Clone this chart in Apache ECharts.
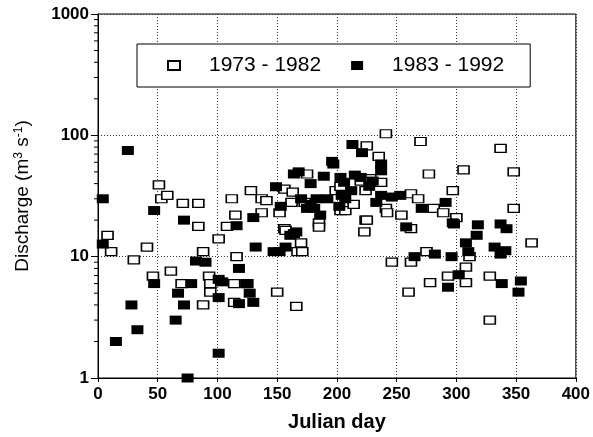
<!DOCTYPE html>
<html>
<head>
<meta charset="utf-8">
<script src="https://cdn.jsdelivr.net/npm/echarts@6/dist/echarts.min.js"></script>
<style>
  html, body { margin: 0; padding: 0; background: #fff; }
  #chart { width: 593px; height: 437px; }
</style>
</head>
<body>
<div id="chart"></div>
<script>
// 1973 - 1982 (open squares)
var day73 = [8, 11, 30, 41, 46, 51, 53, 58, 61, 70, 71, 84, 84, 88, 88, 93, 94, 94, 101, 108,
  112, 115, 116, 114, 114, 125, 128, 137, 141, 137, 150, 152, 156, 156, 157, 162, 163, 166, 167, 173,
  175, 185, 185, 170, 171, 199, 203, 203, 207, 214, 220, 224, 223, 225, 225, 228, 235, 237, 241, 241,
  242, 224, 246, 254, 260, 262, 262, 262, 268, 270, 275, 277, 278, 281, 289, 293, 297, 300, 306, 308,
  308, 311, 328, 328, 337, 348, 348, 363];
var q73 = [15, 11, 9.4, 12, 6.9, 39, 30, 32, 7.6, 6.0, 27.5, 27.5, 17.8, 11, 4.0, 6.9, 6.0, 5.1, 14, 17.8,
  30, 22, 10, 6, 4.2, 6, 35, 30, 29, 23, 5.1, 23, 36, 17, 16.5, 28, 34, 3.9, 11, 28,
  48, 19, 17.5, 13, 11, 35, 38, 24, 24, 27, 42, 20, 16, 20, 82, 44, 67, 41, 103, 25,
  23, 35, 9.0, 22, 5.1, 33, 9.0, 17, 30, 89, 11, 48, 6.1, 25, 23, 6.9, 35, 21, 52, 8.2,
  6.1, 10, 6.9, 3.0, 78, 50, 25, 13];

// 1983 - 1992 (filled squares)
var day83 = [4, 4, 15, 25, 28, 33, 47, 47, 65, 67, 72, 72, 75, 78, 82, 90, 101, 104, 101, 101,
  116, 118, 118, 124, 127, 130, 130, 132, 147, 152, 157, 149, 153, 161, 164, 164, 168, 178, 189, 196,
  178, 181, 192, 202, 213, 221, 237, 237, 203, 206, 197, 237, 233, 246, 253, 204, 207, 271, 291, 297,
  258, 265, 282, 296, 298, 302, 293, 308, 310, 318, 317, 337, 342, 332, 337, 341, 338, 354, 352, 170,
  175, 183, 186, 212, 215, 220, 227, 230, 166];
var q83 = [30, 12.7, 2.0, 75, 4.0, 2.5, 24, 6.0, 3.0, 5.0, 20, 4.0, 1.0, 6.0, 9.2, 9.0, 6.5, 6.2, 4.6, 1.6,
  18, 8.0, 4.1, 6.0, 5.0, 4.2, 21, 12, 11, 11, 12, 37.7, 26, 15, 15.5, 48, 50, 40, 46, 61,
  27, 25, 30, 26, 84, 72, 58, 51, 45, 41, 58, 32, 28, 31, 32, 32, 30, 25, 28, 19,
  17.6, 10, 10.5, 10, 18.6, 7.1, 5.6, 13, 11, 18.3, 15, 18.6, 17, 12, 10.5, 11.2, 6, 6.3, 5.1, 30,
  25, 30, 22, 35, 47, 45, 38, 42, 16];

// minor ticks of the log axis
var minorTicks = [2, 3, 4, 5, 6, 7, 8, 9, 20, 30, 40, 50, 60, 70, 80, 90, 200, 300, 400, 500, 600, 700, 800, 900];

var font = 'Liberation Sans, Arial, Helvetica, sans-serif';

function pairs(xs, ys) {
  return xs.map(function (x, i) { return [x, ys[i]]; });
}

var chart = echarts.init(document.getElementById('chart'));
chart.setOption({
  animation: false,
  backgroundColor: '#fff',
  textStyle: { fontFamily: font },
  grid: {
    left: 98, right: 15, top: 14, bottom: 58,
    show: true, borderColor: '#000', borderWidth: 1
  },
  legend: {
    data: ['1973 - 1982', '1983 - 1992'],
    left: 137, top: 44,
    orient: 'horizontal',
    backgroundColor: '#fff',
    borderColor: '#000', borderWidth: 1,
    padding: [11, 26, 11, 30],
    itemWidth: 12, itemHeight: 9,
    itemGap: 30,
    textStyle: { fontSize: 21, color: '#000', fontFamily: font, padding: [0, 0, 0, 24] }
  },
  xAxis: {
    type: 'value',
    min: 0, max: 400, interval: 50,
    name: 'Julian day',
    nameLocation: 'middle',
    nameGap: 34,
    nameTextStyle: { fontSize: 20, fontWeight: 'bold', color: '#000' },
    axisLine: { lineStyle: { color: '#000', width: 1 } },
    axisTick: { inside: false, length: 4, lineStyle: { color: '#000' } },
    axisLabel: { fontSize: 17, fontWeight: 'bold', color: '#000', margin: 8 },
    splitLine: { show: true, lineStyle: { color: '#333', type: [1, 2], width: 1 } }
  },
  yAxis: {
    type: 'log',
    logBase: 10,
    min: 1, max: 1000,
    name: '{t|Discharge (m}{s|3}{t| s}{s|-1}{t|)}',
    nameLocation: 'middle',
    nameRotate: 90,
    nameGap: 66,
    nameTextStyle: {
      color: '#000',
      rich: {
        t: { fontSize: 19, fontFamily: font, color: '#000', verticalAlign: 'bottom' },
        s: { fontSize: 12, fontFamily: font, color: '#000', verticalAlign: 'top' }
      }
    },
    axisLine: { lineStyle: { color: '#000', width: 1 } },
    axisTick: { inside: false, length: 7, lineStyle: { color: '#000' } },
    axisLabel: {
      fontSize: 17, fontWeight: 'bold', color: '#000', margin: 9,
      formatter: function (v) { return String(Math.round(v)); }
    },
    splitLine: { show: true, lineStyle: { color: '#333', type: [1, 2], width: 1 } }
  },
  series: [
    {
      name: '1973 - 1982',
      type: 'scatter',
      symbol: 'rect',
      symbolSize: [11, 8],
      itemStyle: { color: '#fff', borderColor: '#000', borderWidth: 1.4, opacity: 1 },
      data: pairs(day73, q73)
    },
    {
      name: '1983 - 1992',
      type: 'scatter',
      symbol: 'rect',
      symbolSize: [12, 9],
      itemStyle: { color: '#000', opacity: 1 },
      data: pairs(day83, q83)
    },
    {
      name: 'minor',
      type: 'custom',
      silent: true,
      clip: false,
      z: 10,
      encode: { x: 0, y: 1 },
      data: minorTicks.map(function (v) { return [0, v]; }),
      renderItem: function (params, api) {
        var p = api.coord([api.value(0), api.value(1)]);
        return {
          type: 'line',
          shape: { x1: p[0] - 4, y1: p[1], x2: p[0], y2: p[1] },
          style: { stroke: '#000', lineWidth: 1 }
        };
      }
    }
  ]
});
</script>
</body>
</html>
